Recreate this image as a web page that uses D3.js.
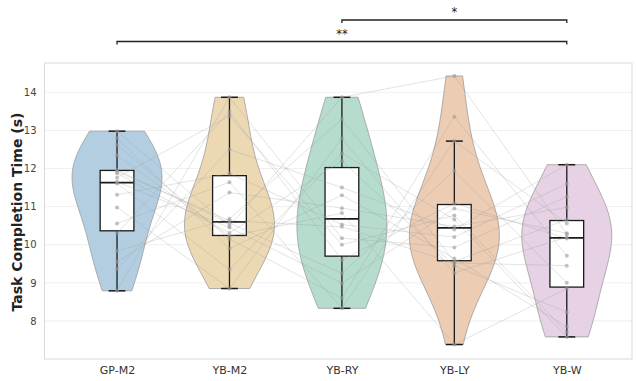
<!DOCTYPE html>
<html><head><meta charset="utf-8">
<script src="https://cdn.jsdelivr.net/npm/d3@7"></script>
<style>body{margin:0;background:#fff}svg{display:block;font-family:"DejaVu Sans",sans-serif}</style>
</head><body><svg id="c" width="636" height="381"></svg>
<script>
const categories = ["GP-M2","YB-M2","YB-RY","YB-LY","YB-W"];
const gpM2 = [12.98, 8.79, 11.61, 10.56, 12.35, 9.36, 11.96, 10.98, 11.76, 9.84, 12.62, 11.31, 10.30, 11.87, 9.55, 12.80, 11.65, 11.92];
const ybM2 = [10.49, 13.87, 9.35, 11.64, 10.22, 12.5, 10.57, 8.85, 13.38, 10.68, 10.15, 11.87, 13.49, 10.31, 11.37, 9.9, 10.45, 10.63];
const ybRY = [13.87, 10.17, 12.4, 8.33, 10.83, 11.5, 9.25, 12.79, 10.0, 13.3, 8.6, 10.53, 9.6, 12.2, 10.96, 11.3, 8.99, 10.47];
const ybLY = [14.43, 9.93, 10.66, 12.72, 7.38, 10.4, 11.94, 9.26, 10.77, 9.56, 13.36, 10.2, 11.09, 9.45, 10.48, 9.64, 10.95, 9.52];
const ybW  = [10.28, 11.26, 7.58, 10.56, 8.85, 12.1, 9.0, 10.2, 7.7, 10.66, 9.71, 11.6, 10.16, 8.23, 10.98, 7.85, 10.3, 9.45];
const yTicks = [8,9,10,11,12,13,14];
const colors = ["#b4cee1","#ecd9b4","#b6dccd","#ecccb2","#e6d2e4"];
const brackets = [{a:2,b:4,label:"*",level:0},{a:0,b:4,label:"**",level:1}];

const series = [gpM2, ybM2, ybRY, ybLY, ybW];
const svg = d3.select("#c");
const L=44.5,R=632,T=63,B=359;
const x = d3.scaleLinear().domain([-0.645,4.58]).range([L,R]);
const y = d3.scaleLinear().domain([7.0,14.77]).range([B,T]);
const step = x(1)-x(0);

// grid
svg.append("g").selectAll("line").data(yTicks).join("line")
  .attr("x1",L).attr("x2",R).attr("y1",d=>y(d)).attr("y2",d=>y(d))
  .attr("stroke","#ebebeb").attr("stroke-width",0.8);

// violins
series.forEach((vals,i)=>{
  const n=vals.length, sd=d3.deviation(vals);
  const bw = 1.3*sd*Math.pow(n,-0.2);
  const lo=d3.min(vals), hi=d3.max(vals);
  const pts=d3.range(0,101).map(k=>{
    const v=lo+(hi-lo)*k/100;
    const dens=d3.sum(vals,xi=>Math.exp(-0.5*((v-xi)/bw)**2));
    return [v,dens];
  });
  const mx=d3.max(pts,p=>p[1]);
  const hw=0.4*step;
  const area=d3.area().curve(d3.curveLinear)
    .y(p=>y(p[0])).x0(p=>x(i)-hw*p[1]/mx).x1(p=>x(i)+hw*p[1]/mx);
  svg.append("path").datum(pts).attr("d",area)
    .attr("fill",colors[i]).attr("stroke","#9a9a9a").attr("stroke-width",0.8);
});

// boxes
series.forEach((vals,i)=>{
  const s=vals.slice().sort(d3.ascending);
  const q1=d3.quantile(s,0.25), q2=d3.quantile(s,0.5), q3=d3.quantile(s,0.75);
  const iqr=q3-q1;
  const wl=d3.min(s.filter(v=>v>=q1-1.5*iqr));
  const wh=d3.max(s.filter(v=>v<=q3+1.5*iqr));
  const g=svg.append("g").attr("stroke","#1a1a1a").attr("fill","none");
  const cx=x(i), bh=0.15*step, ch=0.075*step;
  g.append("line").attr("x1",cx).attr("x2",cx).attr("y1",y(wh)).attr("y2",y(q3)).attr("stroke-width",1.3);
  g.append("line").attr("x1",cx).attr("x2",cx).attr("y1",y(q1)).attr("y2",y(wl)).attr("stroke-width",1.3);
  g.append("line").attr("x1",cx-ch).attr("x2",cx+ch).attr("y1",y(wh)).attr("y2",y(wh)).attr("stroke-width",1.5);
  g.append("line").attr("x1",cx-ch).attr("x2",cx+ch).attr("y1",y(wl)).attr("y2",y(wl)).attr("stroke-width",1.5);
  g.append("rect").attr("x",cx-bh).attr("width",2*bh).attr("y",y(q3)).attr("height",y(q1)-y(q3))
    .attr("fill","#fff").attr("stroke-width",1.3);
  g.append("line").attr("x1",cx-bh).attr("x2",cx+bh).attr("y1",y(q2)).attr("y2",y(q2)).attr("stroke-width",1.8);
});

// participant lines
const participants=d3.range(gpM2.length).map(p=>series.map(s=>s[p]));
const line=d3.line().x((d,i)=>x(i)).y(d=>y(d));
svg.append("g").selectAll("path").data(participants).join("path")
  .attr("d",line).attr("fill","none").attr("stroke","#9a9a9a").attr("stroke-opacity",0.35).attr("stroke-width",0.8);

// points
series.forEach((vals,i)=>{
  svg.append("g").selectAll("circle").data(vals).join("circle")
    .attr("cx",x(i)).attr("cy",d=>y(d)).attr("r",2)
    .attr("fill","#999").attr("fill-opacity",0.6);
});

// frame
svg.append("rect").attr("x",L).attr("y",T).attr("width",R-L).attr("height",B-T)
  .attr("fill","none").attr("stroke","#d9d9d9").attr("stroke-width",1);

// y axis
const ya=svg.append("g").attr("transform",`translate(${L},0)`)
  .call(d3.axisLeft(y).tickValues(yTicks).tickSize(0).tickPadding(8).tickFormat(d3.format("d")));
ya.select(".domain").remove();
ya.selectAll("text").attr("font-size",10).attr("fill","#444").attr("font-family","DejaVu Sans");

// x axis
const xa=svg.append("g").attr("transform",`translate(0,${B})`)
  .call(d3.axisBottom(x).tickValues(d3.range(categories.length)).tickSize(0).tickPadding(7).tickFormat(i=>categories[i]));
xa.select(".domain").remove();
xa.selectAll("text").attr("font-size",11).attr("fill","#333").attr("font-family","DejaVu Sans");

svg.append("text").attr("transform",`translate(22,${212}) rotate(-90)`)
  .attr("text-anchor","middle").attr("font-size",14).attr("font-weight","bold").attr("fill","#222")
  .text("Task Completion Time (s)");

// significance brackets
brackets.forEach(b=>{
  const yy = b.level===0?20:41.5;
  svg.append("path").attr("d",`M${x(b.a)},${yy+3}V${yy}H${x(b.b)}V${yy+3}`)
    .attr("fill","none").attr("stroke","#222").attr("stroke-width",1.3);
  svg.append("text").attr("x",(x(b.a)+x(b.b))/2).attr("y",yy-4)
    .attr("text-anchor","middle").attr("font-size",11.5).attr("fill","#222").text(b.label);
});
</script></body></html>
